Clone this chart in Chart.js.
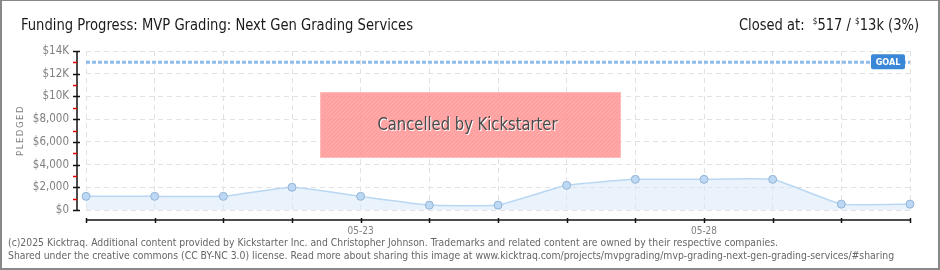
<!DOCTYPE html>
<html>
<head>
<meta charset="utf-8">
<script src="https://cdn.jsdelivr.net/npm/chart.js@4.4.1/dist/chart.umd.min.js"></script>
<style>
html,body{margin:0;padding:0;background:#fff;}
#wrap{position:relative;width:940px;height:270px;box-sizing:border-box;border:2px solid #888;border-top:1px solid #888;overflow:hidden;}
#c{position:absolute;left:-2px;top:-1px;}
</style>
</head>
<body>
<div id="wrap"><canvas id="c" width="940" height="270"></canvas></div>
<script>
const dates = ["05-19","05-20","05-21","05-22","05-23","05-24","05-25","05-26","05-27","05-28","05-29","05-30","05-31"];
const pledged = [1200,1200,1200,2000,1200,430,430,2170,2700,2700,2700,517,517];
const goal = 13000;
const shownDates = ["05-23","05-28"];
const yTicks = [0,2000,4000,6000,8000,10000,12000,14000];
const yTickLabels = ["$0","$2,000","$4,000","$6,000","$8,000","$10K","$12K","$14K"];
const titleText = "Funding Progress: MVP Grading: Next Gen Grading Services";
const footer1 = "(c)2025 Kicktraq. Additional content provided by Kickstarter Inc. and Christopher Johnson. Trademarks and related content are owned by their respective companies.";
const footer2 = "Shared under the creative commons (CC BY-NC 3.0) license. Read more about sharing this image at www.kicktraq.com/projects/mvpgrading/mvp-grading-next-gen-grading-services/#sharing";

const FONT = '"DejaVu Sans Condensed","DejaVu Sans",sans-serif';

const overlay = {
  id: 'overlay',
  beforeDatasetsDraw(chart) {
    const {ctx, chartArea: a, scales: {x, y}} = chart;
    const gy = y.getPixelForValue(goal);
    ctx.save();
    ctx.strokeStyle = '#90bdea';
    ctx.lineWidth = 3;
    ctx.setLineDash([4, 2]);
    ctx.beginPath(); ctx.moveTo(a.left, gy); ctx.lineTo(a.right, gy); ctx.stroke();
    ctx.restore();
  },
  afterDraw(chart) {
    const {ctx, chartArea: a, scales: {x, y}} = chart;
    ctx.save();
    const gy = y.getPixelForValue(goal);
    const bx = a.right - 39, bw = 34, bh = 15;
    ctx.fillStyle = '#3a87d8';
    ctx.beginPath();
    ctx.roundRect(bx, gy - 8, bw, bh, 2);
    ctx.fill();
    ctx.fillStyle = '#fff';
    ctx.font = 'bold 9px ' + FONT;
    ctx.textAlign = 'center'; ctx.textBaseline = 'middle';
    ctx.fillText('GOAL', bx + bw / 2, gy);

    const ax = a.left - 9;
    ctx.strokeStyle = '#111'; ctx.lineWidth = 1.5;
    ctx.beginPath(); ctx.moveTo(ax, y.getPixelForValue(14000)); ctx.lineTo(ax, y.getPixelForValue(0)); ctx.stroke();
    yTicks.forEach(v => {
      const py = Math.round(y.getPixelForValue(v)) + 0.5;
      ctx.strokeStyle = '#111';
      ctx.beginPath(); ctx.moveTo(ax - 4, py); ctx.lineTo(ax + 3, py); ctx.stroke();
    });
    for (let v = 1000; v < 14000; v += 2000) {
      const py = Math.round(y.getPixelForValue(v)) + 0.5;
      ctx.strokeStyle = '#e00000';
      ctx.beginPath(); ctx.moveTo(ax - 4, py); ctx.lineTo(ax, py); ctx.stroke();
    }
    ctx.fillStyle = '#808080';
    ctx.font = '11.5px ' + FONT;
    ctx.textAlign = 'right'; ctx.textBaseline = 'middle';
    yTicks.forEach((v, i) => ctx.fillText(yTickLabels[i], ax - 8, y.getPixelForValue(v)));

    const xy = a.bottom + 10;
    ctx.strokeStyle = '#111'; ctx.lineWidth = 1.5;
    ctx.beginPath(); ctx.moveTo(a.left, xy); ctx.lineTo(a.right, xy); ctx.stroke();
    dates.forEach((d, i) => {
      const px = Math.round(x.getPixelForValue(i)) + 0.5;
      ctx.beginPath(); ctx.moveTo(px, xy - 2); ctx.lineTo(px, xy + 3); ctx.stroke();
    });
    ctx.fillStyle = '#808080';
    ctx.font = '10px ' + FONT;
    ctx.textAlign = 'center'; ctx.textBaseline = 'top';
    dates.forEach((d, i) => { if (shownDates.includes(d)) ctx.fillText(d, x.getPixelForValue(i), xy + 6); });

    ctx.save();
    ctx.translate(21, (a.top + a.bottom) / 2);
    ctx.rotate(-Math.PI / 2);
    ctx.fillStyle = '#808080';
    ctx.font = '9.5px ' + FONT;
    ctx.letterSpacing = '1.5px';
    ctx.textAlign = 'center'; ctx.textBaseline = 'middle';
    ctx.fillText('PLEDGED', 0, 0);
    ctx.restore();

    const cx0 = 320, cy0 = 92, cw = 301, ch = 66;
    ctx.fillStyle = 'rgba(255,140,140,0.82)';
    ctx.fillRect(cx0, cy0, cw, ch);
    ctx.save();
    ctx.beginPath(); ctx.rect(cx0, cy0, cw, ch); ctx.clip();
    ctx.strokeStyle = 'rgba(255,255,255,0.12)'; ctx.lineWidth = 1;
    for (let k = -ch; k < cw; k += 4) {
      ctx.beginPath(); ctx.moveTo(cx0 + k, cy0 + ch); ctx.lineTo(cx0 + k + ch, cy0); ctx.stroke();
    }
    ctx.restore();
    ctx.strokeStyle = 'rgba(255,190,190,0.9)'; ctx.lineWidth = 1;
    ctx.strokeRect(cx0 + 0.5, cy0 + 0.5, cw - 1, ch - 1);
    ctx.font = '17px ' + FONT;
    ctx.textAlign = 'center'; ctx.textBaseline = 'middle';
    ctx.fillStyle = '#fff';
    ctx.fillText('Cancelled by Kickstarter', cx0 + cw / 2 - 2, cy0 + ch / 2 + 2, 180);
    ctx.fillStyle = '#4a4a4a';
    ctx.fillText('Cancelled by Kickstarter', cx0 + cw / 2 - 3, cy0 + ch / 2 + 1, 180);

    ctx.fillStyle = '#1a1a1a';
    ctx.font = '16px ' + FONT;
    ctx.textAlign = 'left'; ctx.textBaseline = 'alphabetic';
    ctx.fillText(titleText, 21, 30, 392);

    const parts = [
      ['Closed at:  ', '16px', 0], ['$', '9px', -6], ['517 / ', '16px', 0], ['$', '9px', -6], ['13k (3%)', '16px', 0]
    ];
    let total = 0;
    parts.forEach(p => { ctx.font = p[1] + ' ' + FONT; total += ctx.measureText(p[0]).width; });
    const sc = Math.min(1, 180 / total);
    const cx = 919 - total * sc;
    ctx.save();
    ctx.translate(cx, 30); ctx.scale(sc, 1);
    let off = 0;
    parts.forEach(p => { ctx.font = p[1] + ' ' + FONT; ctx.fillText(p[0], off, p[2]); off += ctx.measureText(p[0]).width; });
    ctx.restore();

    ctx.fillStyle = '#666';
    ctx.font = '10.35px ' + FONT;
    ctx.fillText(footer1, 8, 246, 770);
    ctx.fillText(footer2, 8, 259, 890);
    ctx.restore();
  }
};

new Chart(document.getElementById('c'), {
  type: 'line',
  data: {
    labels: dates,
    datasets: [{
      data: pledged,
      borderColor: '#b9d7f3',
      borderWidth: 1.5,
      backgroundColor: 'rgba(214,232,250,0.5)',
      fill: 'origin',
      tension: 0.12,
      pointRadius: 4,
      pointBackgroundColor: '#bcd8f5',
      pointBorderColor: '#94b4d4',
      pointBorderWidth: 1
    }]
  },
  options: {
    responsive: false,
    animation: false,
    events: [],
    layout: { padding: { left: 86, right: 30, top: 51, bottom: 60 } },
    plugins: { legend: { display: false }, tooltip: { enabled: false } },
    scales: {
      x: {
        offset: false,
        ticks: { display: false },
        grid: { color: '#e2e2e2', drawTicks: false },
        border: { display: false, dash: [5, 4] }
      },
      y: {
        min: 0, max: 14000,
        ticks: { display: false, stepSize: 2000 },
        grid: { color: '#e2e2e2', drawTicks: false },
        border: { display: false, dash: [5, 4] }
      }
    }
  },
  plugins: [overlay]
});
</script>
</body>
</html>
